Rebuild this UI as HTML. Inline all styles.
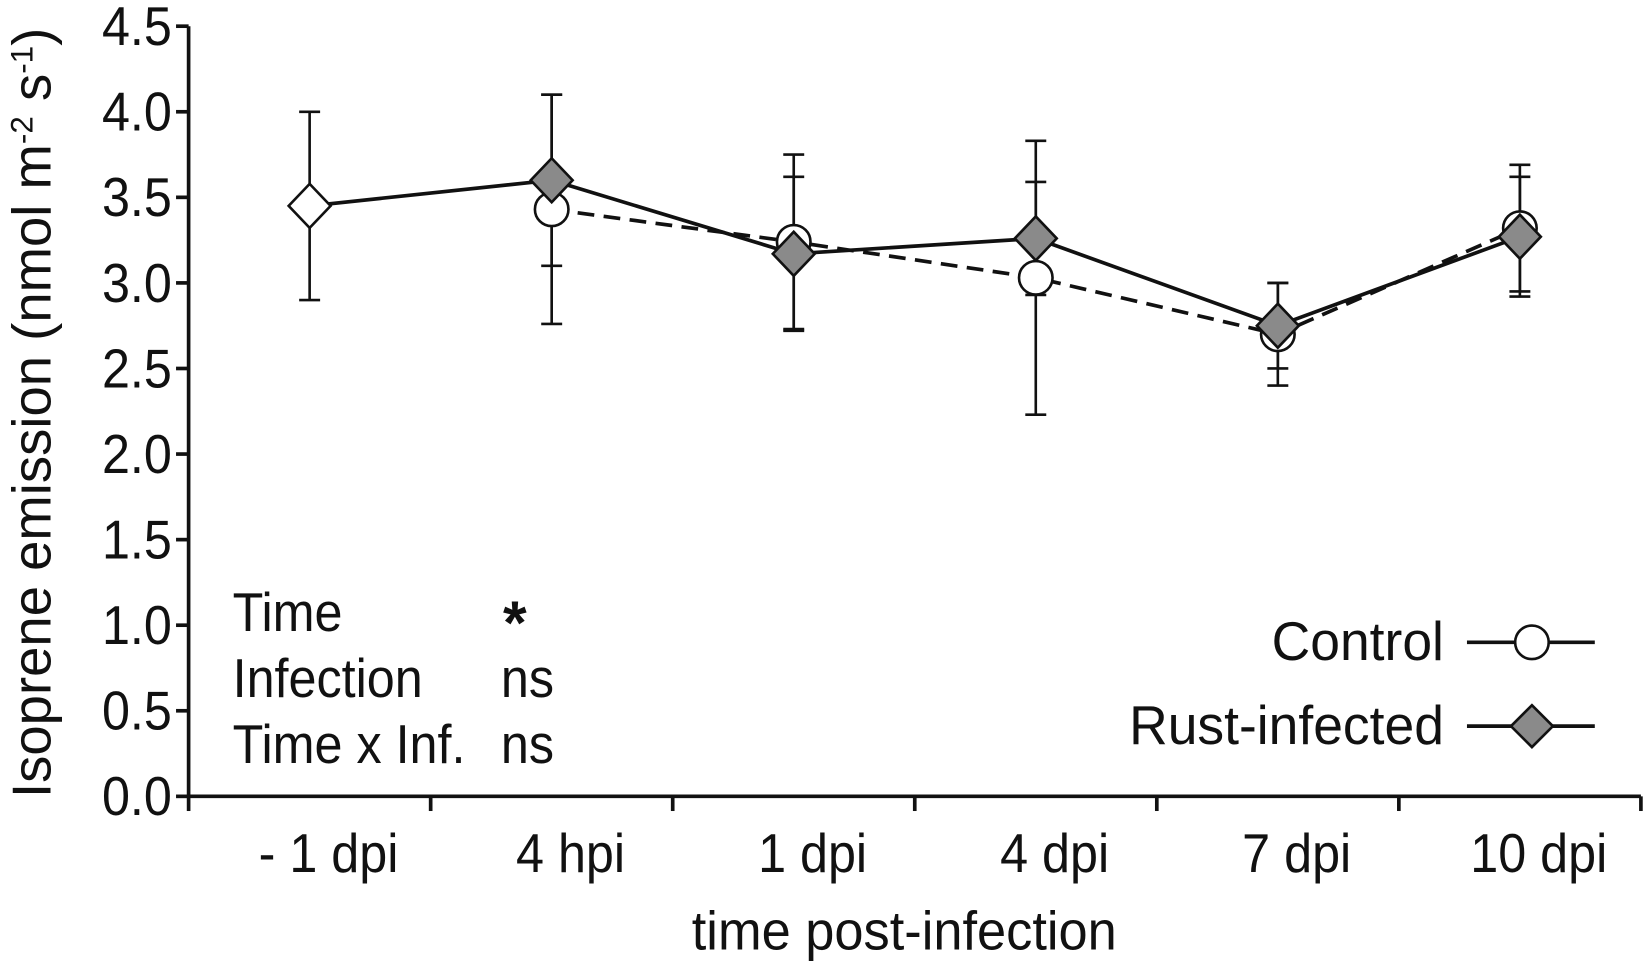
<!DOCTYPE html>
<html><head><meta charset="utf-8"><style>
html,body{margin:0;padding:0;background:#fff}
svg{display:block}
text{font-family:"Liberation Sans",Arial,sans-serif;fill:#111}
</style></head><body>
<svg id="chart" width="1643" height="964" viewBox="0 0 1568 920" preserveAspectRatio="none" xmlns="http://www.w3.org/2000/svg">
<g id="axes"></g><g id="series"></g>
<g font-size="50">
<text transform="translate(222,602) scale(0.96,1.04)">Time</text><text x="480" y="614" font-size="58" font-weight="bold">*</text>
<text transform="translate(222,665) scale(0.96,1.04)">Infection</text><text transform="translate(478,665) scale(0.96,1.04)">ns</text>
<text transform="translate(222,728) scale(0.96,1.04)">Time x Inf.</text><text transform="translate(478,728) scale(0.96,1.04)">ns</text>
</g>
<g font-size="50">
<text transform="translate(1378,630) scale(1.02,1.04)" text-anchor="end">Control</text>
<line x1="1400" y1="613" x2="1522" y2="613" stroke="#111" stroke-width="3.5"/>
<circle cx="1462" cy="613" r="16" fill="#fff" stroke="#111" stroke-width="2.5"/>
<text transform="translate(1378,710) scale(1.02,1.04)" text-anchor="end">Rust-infected</text>
<line x1="1400" y1="693" x2="1522" y2="693" stroke="#111" stroke-width="3.5"/>
<polygon points="1462,673 1482,693 1462,713 1442,693" fill="#8a8a8a" stroke="#111" stroke-width="2.5"/>
</g>
<text transform="translate(863,906) scale(1.0,1.04)" font-size="50" text-anchor="middle">time post-infection</text>
<text transform="translate(48,394) rotate(-90)" font-size="52" text-anchor="middle">Isoprene emission (nmol m<tspan dy="-17" font-size="30">-2</tspan><tspan dy="17"> s</tspan><tspan dy="-17" font-size="30">-1</tspan><tspan dy="17">)</tspan></text>
</svg>
<script>
const categories=["- 1 dpi","4 hpi","1 dpi","4 dpi","7 dpi","10 dpi"];
const yTicks=[0,0.5,1,1.5,2,2.5,3,3.5,4,4.5];
const yTickLabels=["0.0","0.5","1.0","1.5","2.0","2.5","3.0","3.5","4.0","4.5"];
const controlValues=[null,3.43,3.24,3.03,2.70,3.32];
const controlErr=[null,0.67,0.51,0.80,0.30,0.37];
const rustValues=[3.45,3.60,3.17,3.26,2.75,3.27];
const rustErr=[0.55,0.50,0.45,0.33,0.25,0.35];
const NS="http://www.w3.org/2000/svg";
const X0=180,BAND=231,Y0=760,Y1=25,VMAX=4.5;
const x=i=>X0+BAND*(i+0.5);
const y=v=>Y0-(Y0-Y1)*v/VMAX;
function mk(tag,attrs,parent){const e=document.createElementNS(NS,tag);for(const k in attrs)e.setAttribute(k,attrs[k]);parent.appendChild(e);return e;}
const axes=document.getElementById('axes'),ser=document.getElementById('series');
let ya=mk('line',{x1:X0,y1:Y1,x2:X0,y2:Y0,stroke:'#111','stroke-width':3.5},axes);


let xa=mk('line',{x1:X0,y1:Y0,x2:X0+BAND*categories.length,y2:Y0,stroke:'#111','stroke-width':3.5},axes);


yTicks.forEach((v,i)=>{
 mk('line',{x1:X0,y1:y(v),x2:X0-12,y2:y(v),stroke:'#111','stroke-width':3.5},axes);
 const t=mk('text',{transform:`translate(${X0-16},${y(v)+18}) scale(0.96,1.04)`,'font-size':50,'text-anchor':'end'},axes);t.textContent=yTickLabels[i];
 
 
});
for(let i=0;i<=categories.length;i++)mk('line',{x1:X0+BAND*i,y1:Y0,x2:X0+BAND*i,y2:Y0+14,stroke:'#111','stroke-width':3.5},axes);
categories.forEach((c,i)=>{
 const t=mk('text',{transform:`translate(${x(i)+18},${Y0+72}) scale(0.96,1.04)`,'font-size':50,'text-anchor':'middle'},axes);t.textContent=c;
 
 
});
function errbars(vals,err,name){vals.forEach((v,i)=>{if(v==null)return;
 const g=mk('g',{stroke:'#111','stroke-width':2.5},ser);
 
 
 mk('line',{x1:x(i),y1:y(v+err[i]),x2:x(i),y2:y(v-err[i])},g);
 mk('line',{x1:x(i)-10,y1:y(v+err[i]),x2:x(i)+10,y2:y(v+err[i])},g);
 mk('line',{x1:x(i)-10,y1:y(v-err[i]),x2:x(i)+10,y2:y(v-err[i])},g);});}
errbars(controlValues,controlErr,'control');
errbars(rustValues,rustErr,'rust');
function path(vals){let d='';vals.forEach((v,i)=>{if(v==null)return;d+=(d?'L':'M')+x(i)+','+y(v);});return d;}
let cl=mk('path',{d:path(controlValues),fill:'none',stroke:'#111','stroke-width':3.5,'stroke-dasharray':'16,9'},ser);


controlValues.forEach((v,i)=>{if(v==null)return;
 const c=mk('circle',{cx:x(i),cy:y(v),r:16,fill:'#fff',stroke:'#111','stroke-width':2.5},ser);
 
 });
let rl=mk('path',{d:path(rustValues),fill:'none',stroke:'#111','stroke-width':3.5},ser);


rustValues.forEach((v,i)=>{const cx=x(i),cy=y(v);
 const p=mk('polygon',{points:`${cx},${cy-21} ${cx+20},${cy} ${cx},${cy+21} ${cx-20},${cy}`,fill:i===0?'#fff':'#8a8a8a',stroke:'#111','stroke-width':2.5},ser);
 
 });
</script>
</body></html>
